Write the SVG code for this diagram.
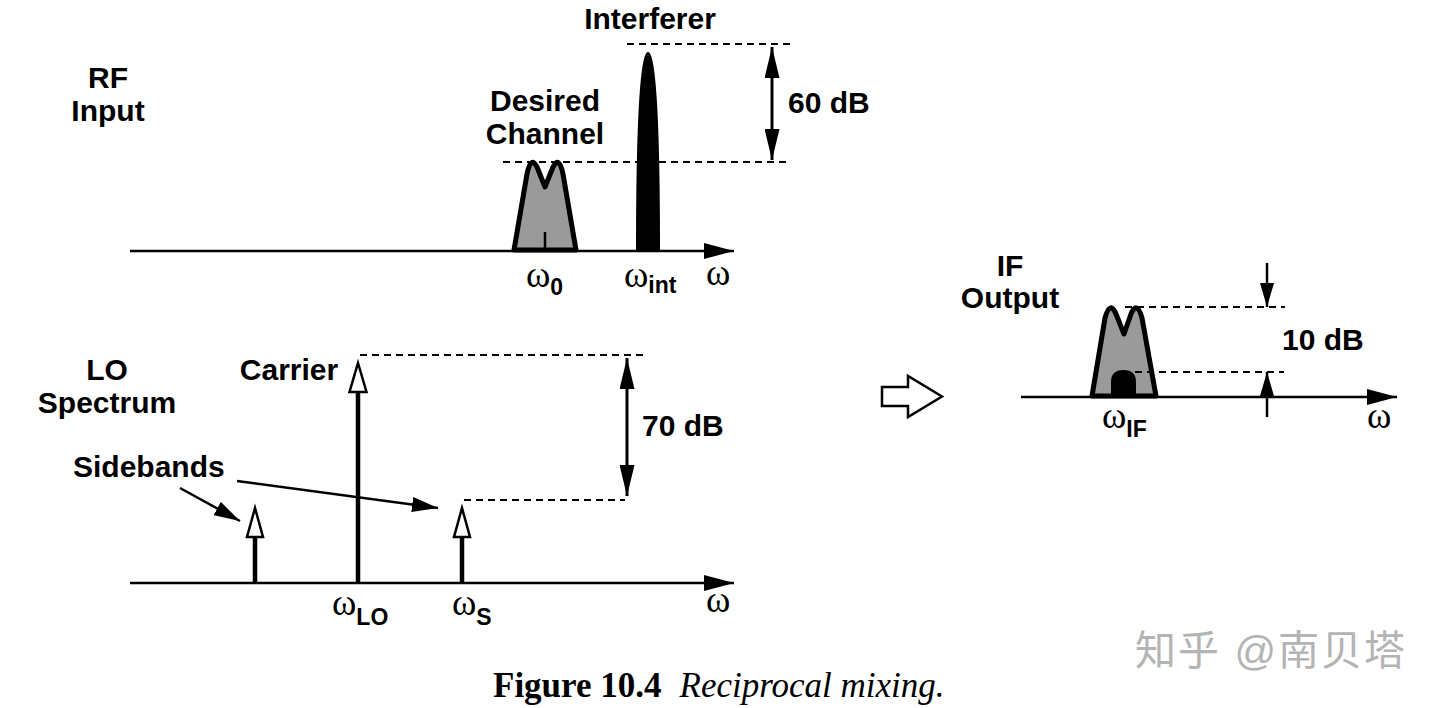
<svg xmlns="http://www.w3.org/2000/svg" width="1440" height="708" viewBox="0 0 1440 708">
<style>
.t{font-family:"Liberation Sans",Arial,sans-serif;font-weight:bold;font-size:30px;fill:#000}
.w{font-family:"Liberation Serif","Times New Roman",serif;font-size:37px;fill:#000}
.s{font-family:"Liberation Sans",Arial,sans-serif;font-weight:bold;font-size:23px}
.ax{stroke:#000;stroke-width:2.5;fill:none}
.dash{stroke:#000;stroke-width:2.2;stroke-dasharray:7 5;fill:none}
.dim{stroke:#000;stroke-width:3;fill:none}
.stem{stroke:#000;stroke-width:4.5;fill:none}
.open{fill:#fff;stroke:#000;stroke-width:2.5;stroke-linejoin:miter}
.band{fill:#9a9a9a;stroke:#000;stroke-width:5;stroke-linejoin:round}
</style>
<defs>
<marker id="ah" viewBox="0 0 30 16" refX="30" refY="8" markerWidth="30" markerHeight="16" markerUnits="userSpaceOnUse" orient="auto">
<path d="M0,0 L30,8 L0,16 Z" fill="#000"/>
</marker>
<marker id="dh" viewBox="0 0 31 15" refX="31" refY="7.5" markerWidth="31" markerHeight="15" markerUnits="userSpaceOnUse" orient="auto-start-reverse">
<path d="M0,0 L31,7.5 L0,15 Z" fill="#000"/>
</marker>
<marker id="sh" viewBox="0 0 26 15" refX="26" refY="7.5" markerWidth="26" markerHeight="15" markerUnits="userSpaceOnUse" orient="auto">
<path d="M0,0 L26,7.5 L0,15 Z" fill="#000"/>
</marker>
<marker id="ih" viewBox="0 0 24 14" refX="24" refY="7" markerWidth="24" markerHeight="14" markerUnits="userSpaceOnUse" orient="auto">
<path d="M0,0 L24,7 L0,14 Z" fill="#000"/>
</marker>
</defs>

<g id="rf-input">
<text class="t" x="108" y="88" text-anchor="middle">RF</text>
<text class="t" x="108" y="121" text-anchor="middle">Input</text>
<line class="ax" x1="130" y1="251" x2="734" y2="251" marker-end="url(#ah)"/>
<path class="band" d="M514,250 L527,174 Q531,155 537,167 L545,187 L553,167 Q559,155 563,174 L576,250 Z"/>
<line x1="545" y1="232" x2="545" y2="250" stroke="#000" stroke-width="2.5"/>
<path d="M636,251 C636,140 639,52 648,52 C657,52 660,140 660,251 Z" fill="#000"/>
<line class="dash" x1="627" y1="44" x2="790" y2="44"/>
<line class="dash" x1="503" y1="162" x2="790" y2="162"/>
<line class="dim" x1="772" y1="47" x2="772" y2="160" marker-start="url(#dh)" marker-end="url(#dh)"/>
<text class="t" x="650" y="29" text-anchor="middle">Interferer</text>
<text class="t" x="545" y="111" text-anchor="middle">Desired</text>
<text class="t" x="545" y="144" text-anchor="middle">Channel</text>
<text class="t" x="788" y="113">60 dB</text>
<text class="w" x="526" y="287">ω<tspan class="s" dy="8">0</tspan></text>
<text class="w" x="624" y="287">ω<tspan class="s" dy="6">int</tspan></text>
<text class="w" x="706" y="285">ω</text>
</g>

<g id="lo-spectrum">
<text class="t" x="107" y="380" text-anchor="middle">LO</text>
<text class="t" x="107" y="413" text-anchor="middle">Spectrum</text>
<line class="ax" x1="130" y1="583" x2="734" y2="583" marker-end="url(#ah)"/>
<line class="stem" x1="358" y1="392" x2="358" y2="583"/>
<path class="open" d="M358,363 L366.5,392 L349.5,392 Z"/>
<line class="stem" x1="255" y1="537" x2="255" y2="583"/>
<path class="open" d="M255,508 L263,537 L247,537 Z"/>
<line class="stem" x1="462" y1="537" x2="462" y2="583"/>
<path class="open" d="M462,508 L470,537 L454,537 Z"/>
<line class="dash" x1="360" y1="355" x2="645" y2="355"/>
<line class="dash" x1="464" y1="500" x2="625" y2="500"/>
<line class="dim" x1="627" y1="358" x2="627" y2="496" marker-start="url(#dh)" marker-end="url(#dh)"/>
<text class="t" x="289" y="380" text-anchor="middle">Carrier</text>
<text class="t" x="642" y="436">70 dB</text>
<text class="t" x="73" y="477">Sidebands</text>
<text class="w" x="332" y="615">ω<tspan class="s" dy="10">LO</tspan></text>
<text class="w" x="452" y="615">ω<tspan class="s" dy="10">S</tspan></text>
<text class="w" x="706" y="612">ω</text>
</g>

<g id="connectors">
<line x1="180" y1="488" x2="240" y2="521" stroke="#000" stroke-width="2.5" marker-end="url(#sh)"/>
<line x1="237" y1="481" x2="438" y2="508" stroke="#000" stroke-width="2.5" marker-end="url(#sh)"/>
</g>

<g id="mix-arrow">
<path d="M882,387 H908 V376 L942,396.5 L908,417 V406 H882 Z" fill="#fff" stroke="#000" stroke-width="2.5"/>
</g>

<g id="if-output">
<text class="t" x="1010" y="276" text-anchor="middle">IF</text>
<text class="t" x="1010" y="308" text-anchor="middle">Output</text>
<line class="ax" x1="1021" y1="397" x2="1397" y2="397" marker-end="url(#ah)"/>
<path class="band" d="M1092,396 L1105,318 Q1110,300 1116,314 L1124,334 L1131,314 Q1137,300 1142,318 L1156,396 Z"/>
<path d="M1111,397 V382 Q1111,370 1123.5,370 Q1136,370 1136,382 V397 Z" fill="#000"/>
<line class="dash" x1="1125" y1="307" x2="1285" y2="307"/>
<line class="dash" x1="1135" y1="372" x2="1284" y2="372"/>
<line x1="1267" y1="263" x2="1267" y2="307" stroke="#000" stroke-width="2.5" marker-end="url(#ih)"/>
<line x1="1267" y1="417" x2="1267" y2="372" stroke="#000" stroke-width="2.5" marker-end="url(#ih)"/>
<text class="t" x="1282" y="350">10 dB</text>
<text class="w" x="1102" y="428">ω<tspan class="s" dy="9">IF</tspan></text>
<text class="w" x="1367" y="428">ω</text>
</g>

<g id="caption">
<text x="493" y="697" font-family="'Liberation Serif','Times New Roman',serif" font-size="35" font-weight="bold">Figure 10.4<tspan font-weight="normal" font-style="italic" dx="18">Reciprocal mixing.</tspan></text>
</g>

<g id="watermark">
<text x="1135" y="665" font-family="'Liberation Sans','Noto Sans CJK SC',sans-serif" font-size="41" letter-spacing="2" fill="#b4b4b4">知乎 @南贝塔</text>
</g>
</svg>
